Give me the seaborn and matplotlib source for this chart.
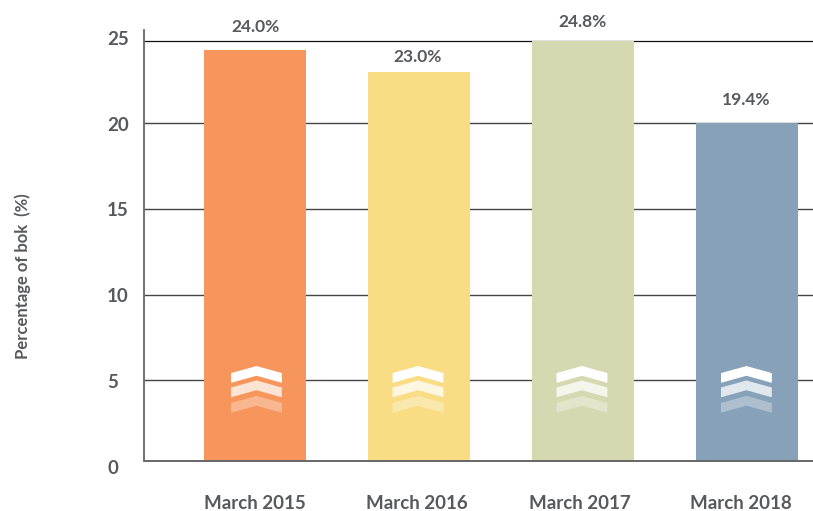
import matplotlib
matplotlib.use("Agg")
import matplotlib.pyplot as plt
from matplotlib.patches import Polygon
import pandas as pd
import seaborn as sns

categories = ["March 2015", "March 2016", "March 2017", "March 2018"]
bar_heights = [24.46, 23.15, 25.0, 20.12]
value_labels = ["24.0%", "23.0%", "24.8%", "19.4%"]
label_levels = [25.85, 24.05, 26.13, 21.5]
label_shift = [0.006, -0.006, 0.0, -0.006]
colors = ["#F6965C", "#F9DD85", "#D5D9B1", "#87A1B9"]
grid_levels = [4.82, 9.88, 15.0, 20.12]
ytick_levels = [-0.36, 4.76, 9.88, 15.0, 20.06, 25.18]
ytick_labels = ["0", "5", "10", "15", "20", "25"]
xtick_levels = [0.0, -0.012, -0.018, -0.036]
chevron_shift = [0.009, -0.006, -0.006, -0.003]
text_color = "#58595B"

sns.set_theme(style="white")
plt.rcParams["font.family"] = ["Lato", "DejaVu Sans"]
plt.rcParams["font.weight"] = "bold"

fig = plt.figure(figsize=(8.13, 5.11), dpi=100)
W, H = 813, 511
ax = fig.add_axes([144 / W, 1 - 467 / H, (813 - 144) / W, (467 - 30) / H])

df = pd.DataFrame({"period": categories, "height": bar_heights})
sns.barplot(data=df, x="period", y="height", hue="period", palette=colors,
            legend=False, width=0.622, saturation=1, linewidth=0, ax=ax, zorder=3)

ax.set_xlim(-0.677, 3.403)
ax.set_ylim(-0.36, 25.65)

ax.hlines(grid_levels, *ax.get_xlim(), color="#444444", lw=1.0, zorder=1)
ax.hlines(25, *ax.get_xlim(), color="#111111", lw=0.9, zorder=1)
ax.hlines(0, *ax.get_xlim(), color="#666666", lw=1.4, zorder=4)

for s in ["top", "right", "bottom"]:
    ax.spines[s].set_visible(False)
ax.spines["left"].set_bounds(0, 25.65)
ax.spines["left"].set_color("#666666")
ax.spines["left"].set_linewidth(1.3)

ax.set_yticks(ytick_levels, ytick_labels)
ax.tick_params(axis="y", length=0, pad=26.6, labelsize=13.5, labelcolor=text_color)
for t in ax.get_yticklabels():
    t.set_ha("left")
ax.set_xticks([i + d for i, d in enumerate(xtick_levels)], categories)
ax.tick_params(axis="x", length=0, pad=20.5, labelsize=13.5, labelcolor=text_color)
ax.set_xlabel("")
ax.set_ylabel("")

fig.text(22.5 / W, 1 - 276 / H, "Percentage of bok  (%)", rotation=90, ha="center",
         va="center", fontsize=12, fontweight="bold", color=text_color)

for i, (lab, lev, d) in enumerate(zip(value_labels, label_levels, label_shift)):
    ax.text(i + d, lev, lab, ha="center", va="center", fontsize=12.5,
            fontweight="bold", color=text_color, zorder=5)

# chevron decoration inside each bar
half, drop, thick = 0.155, 0.42, 0.58
for i, d in enumerate(chevron_shift):
    c = i + d
    for apex, alpha in zip([5.65, 4.79, 3.87], [1.0, 0.75, 0.32]):
        ax.add_patch(Polygon(
            [(c - half, apex - drop), (c, apex), (c + half, apex - drop),
             (c + half, apex - drop - thick), (c, apex - thick),
             (c - half, apex - drop - thick)],
            closed=True, facecolor="white", edgecolor="none", alpha=alpha, zorder=5))

fig.savefig("out.png", dpi=100)
